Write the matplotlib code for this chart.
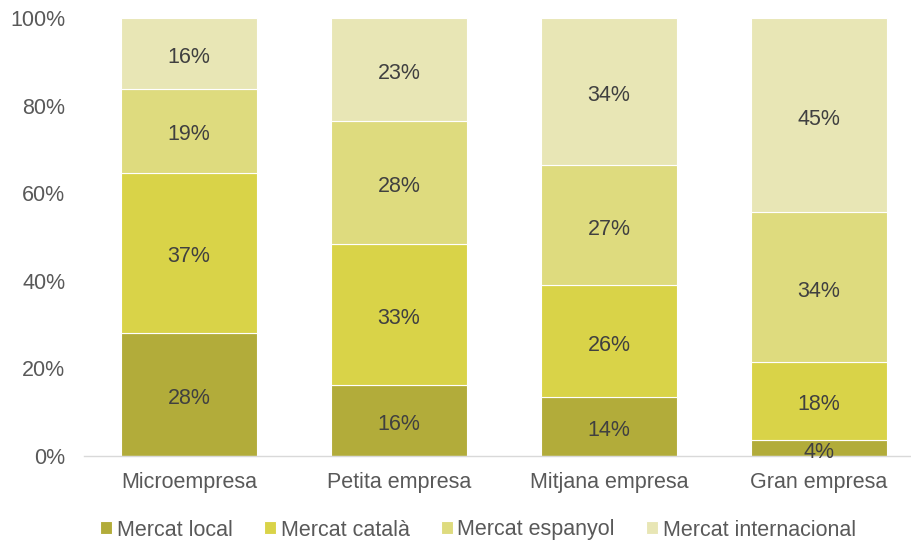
import matplotlib
matplotlib.use("Agg")
import matplotlib.pyplot as plt
import numpy as np

categories = ["Microempresa", "Petita empresa", "Mitjana empresa", "Gran empresa"]
series_names = ["Mercat local", "Mercat català", "Mercat espanyol", "Mercat internacional"]
local = [28.1, 16.2, 13.5, 3.7]
catala = [36.6, 32.2, 25.5, 17.8]
espanyol = [19.1, 28.1, 27.4, 34.2]
internacional = [16.2, 23.5, 33.6, 44.3]
labels_local = ["28%", "16%", "14%", "4%"]
labels_catala = ["37%", "33%", "26%", "18%"]
labels_espanyol = ["19%", "28%", "27%", "34%"]
labels_internacional = ["16%", "23%", "34%", "45%"]
yticks = [0, 20, 40, 60, 80, 100]

colors = ["#B2AC3A", "#D9D348", "#DEDB7E", "#E8E6B5"]
FS = 15.5

plt.rcParams['font.family'] = ['Liberation Sans', 'DejaVu Sans']

fig = plt.figure(figsize=(9.12, 5.4), dpi=100)
ax = fig.add_axes([84/912, 1-456/540, (912-84)/912, (456-18)/540])

x = np.arange(len(categories))
width = 0.643
series = [local, catala, espanyol, internacional]
labels = [labels_local, labels_catala, labels_espanyol, labels_internacional]
bottom = np.zeros(len(categories))
handles = []
for vals, lab, col, name in zip(series, labels, colors, series_names):
    vals = np.array(vals)
    bars = ax.bar(x, vals, width, bottom=bottom, color=col, edgecolor="white",
                  linewidth=0.8, label=name)
    handles.append(bars)
    for xi, b, v, t in zip(x, bottom, vals, lab):
        yc = b + v / 2
        ax.annotate(t, (xi, yc), xytext=(0, -3), textcoords="offset points",
                    ha="center", va="center", fontsize=FS, color="#404040")
    bottom = bottom + vals

ax.set_xlim(-0.5, 3.5 - 12/210)
ax.set_ylim(0, 100)
ax.set_yticks(yticks)
ax.set_yticklabels([f"{t}%" for t in yticks])
ax.set_xticks(x)
ax.set_xticklabels(categories)
ax.tick_params(axis="both", length=0, labelsize=FS, colors="#595959")
ax.tick_params(axis="y", pad=13.5)
ax.tick_params(axis="x", pad=11.5)
for s in ["top", "right", "left"]:
    ax.spines[s].set_visible(False)
ax.spines["bottom"].set_color("#D9D9D9")
ax.spines["bottom"].set_linewidth(1)

leg = fig.legend(handles=handles, labels=series_names, loc="center",
                 bbox_to_anchor=(478/912, 1-530/540), ncol=4, frameon=False,
                 fontsize=FS, handlelength=0.55, handleheight=0.55,
                 handletextpad=0.22, columnspacing=1.45)
for t in leg.get_texts():
    t.set_color("#595959")

fig.savefig("out.png", dpi=100)
